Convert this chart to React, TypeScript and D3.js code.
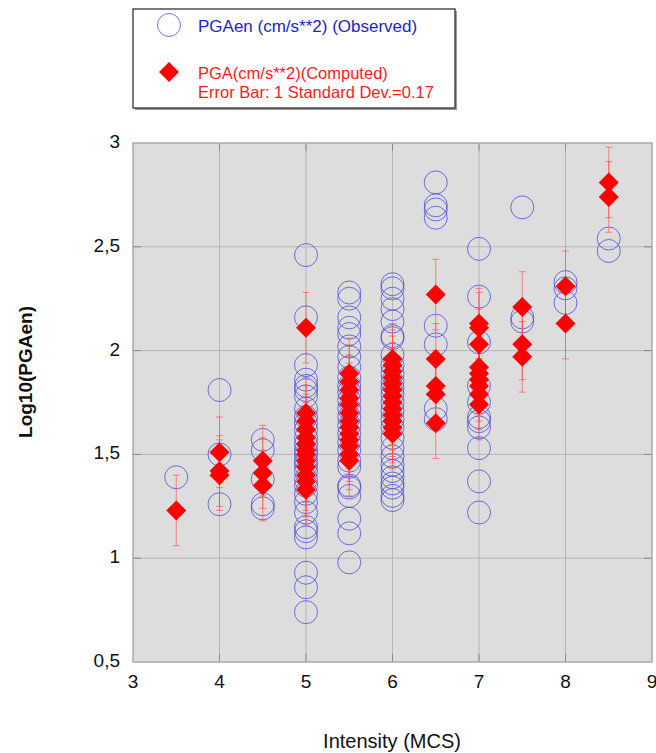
import React from "react";
import * as d3 from "d3";

const intensities = [3.5, 4, 4.5, 5, 5.5, 6, 6.5, 7, 7.5, 8, 8.5];

const observedValues: number[][] = [
  [1.39],
  [1.81, 1.5, 1.26],
  [1.57, 1.52, 1.38, 1.26, 1.24],
  [2.46, 2.16, 1.93, 1.86, 1.83, 1.81, 1.78, 1.72, 1.68, 1.65, 1.62, 1.58, 1.55, 1.52, 1.5, 1.47, 1.45, 1.42, 1.38, 1.35, 1.31, 1.27, 1.22, 1.15, 1.13, 1.1, 0.93, 0.86, 0.74],
  [2.28, 2.25, 2.16, 2.11, 2.08, 2.02, 1.97, 1.92, 1.87, 1.83, 1.8, 1.76, 1.72, 1.68, 1.64, 1.6, 1.56, 1.52, 1.47, 1.44, 1.35, 1.34, 1.3, 1.19, 1.12, 0.98],
  [2.32, 2.3, 2.25, 2.2, 2.14, 2.07, 2.06, 1.98, 1.93, 1.89, 1.85, 1.82, 1.79, 1.75, 1.71, 1.67, 1.63, 1.58, 1.53, 1.49, 1.45, 1.42, 1.39, 1.36, 1.34, 1.3, 1.28],
  [2.81, 2.7, 2.68, 2.64, 2.12, 2.03, 1.72, 1.67],
  [2.49, 2.26, 2.04, 1.83, 1.75, 1.68, 1.66, 1.63, 1.53, 1.37, 1.22],
  [2.69, 2.16, 2.14],
  [2.33, 2.3, 2.23],
  [2.54, 2.48],
];

const computedValues: number[][] = [
  [1.23],
  [1.51, 1.42, 1.4],
  [1.47, 1.41, 1.35],
  [2.11, 1.7, 1.66, 1.62, 1.58, 1.55, 1.52, 1.5, 1.47, 1.44, 1.4, 1.37, 1.33],
  [1.89, 1.85, 1.81, 1.77, 1.74, 1.7, 1.66, 1.63, 1.6, 1.57, 1.54, 1.5, 1.47],
  [1.96, 1.93, 1.9, 1.87, 1.84, 1.81, 1.78, 1.75, 1.72, 1.69, 1.66, 1.63, 1.6],
  [2.27, 1.96, 1.83, 1.79, 1.65],
  [2.13, 2.11, 2.03, 1.92, 1.89, 1.86, 1.83, 1.79, 1.74],
  [2.21, 2.03, 1.97],
  [2.31, 2.13],
  [2.81, 2.74],
];

const stdDev = 0.17;
const xTicks = [3, 4, 5, 6, 7, 8, 9];
const yTicks = [0.5, 1, 1.5, 2, 2.5, 3];
const yTickLabels = ["0,5", "1", "1,5", "2", "2,5", "3"];

const FONT = "Arial, 'Liberation Sans', Helvetica, sans-serif";

export default function App() {
  const W = 656, H = 753;
  const x = d3.scaleLinear().domain([3, 9]).range([133, 652]);
  const y = d3.scaleLinear().domain([0.5, 3]).range([662, 143]);
  const [x0, x1] = x.range();
  const [y0, y1] = y.range();

  const obs: { i: number; v: number }[] = [];
  intensities.forEach((i, k) => observedValues[k].forEach((v) => obs.push({ i, v })));
  const comp: { i: number; v: number }[] = [];
  intensities.forEach((i, k) => computedValues[k].forEach((v) => comp.push({ i, v })));

  const R = 11.5;
  const D = 10;
  const diamond = (cx: number, cy: number) =>
    `M${cx},${cy - D}L${cx + D},${cy}L${cx},${cy + D}L${cx - D},${cy}Z`;

  const gridColor = "#b6b6b6";
  const tickColor = "#8a8a8a";
  const circleStroke = "rgba(70,70,215,0.75)";
  const errColor = "rgba(255,70,70,0.6)";

  return (
    <svg width={W} height={H} style={{ position: "absolute", left: 0, top: 0, background: "#fff" }}>
      {/* legend */}
      <rect x={135} y={11} width={322} height={99} fill="#999" />
      <rect x={133} y={9} width={322} height={99} fill="#fff" stroke="#333" strokeWidth={1.3} />
      <circle cx={169} cy={25} r={R} fill="none" stroke={circleStroke} strokeWidth={1} />
      <text x={198} y={32} fontFamily={FONT} fontSize={17} fill="#2323c8">PGAen (cm/s**2) (Observed)</text>
      <path d={diamond(169, 72)} fill="#ff0000" />
      <text x={198} y={79} fontFamily={FONT} fontSize={16.5} fill="#ff1a1a">PGA(cm/s**2)(Computed)</text>
      <text x={198} y={98} fontFamily={FONT} fontSize={16.5} fill="#ff1a1a">Error Bar: 1 Standard Dev.=0.17</text>

      {/* plot background */}
      <rect x={x0} y={y1} width={x1 - x0} height={y0 - y1} fill="#dcdddc" />
      {xTicks.slice(1, -1).map((t) => (
        <line key={"gx" + t} x1={x(t)} x2={x(t)} y1={y1} y2={y0} stroke={gridColor} strokeWidth={1} />
      ))}
      {yTicks.slice(1, -1).map((t) => (
        <line key={"gy" + t} x1={x0} x2={x1} y1={y(t)} y2={y(t)} stroke={gridColor} strokeWidth={1} />
      ))}
      {xTicks.slice(1, -1).map((t) => (
        <g key={"tx" + t}>
          <line x1={x(t)} x2={x(t)} y1={y0} y2={y0 - 8} stroke={tickColor} strokeWidth={1} />
          <line x1={x(t)} x2={x(t)} y1={y1} y2={y1 + 8} stroke={tickColor} strokeWidth={1} />
        </g>
      ))}
      {yTicks.slice(1, -1).map((t) => (
        <g key={"ty" + t}>
          <line x1={x0} x2={x0 + 8} y1={y(t)} y2={y(t)} stroke={tickColor} strokeWidth={1} />
          <line x1={x1} x2={x1 - 8} y1={y(t)} y2={y(t)} stroke={tickColor} strokeWidth={1} />
        </g>
      ))}
      <rect x={x0} y={y1} width={x1 - x0} height={y0 - y1} fill="none" stroke="#aaaaaa" strokeWidth={1.5} />

      {/* observed circles */}
      {obs.map((d, k) => (
        <circle key={"o" + k} cx={x(d.i)} cy={y(d.v)} r={R} fill="none" stroke={circleStroke} strokeWidth={1} />
      ))}

      {/* error bars */}
      {comp.map((d, k) => {
        const cx = x(d.i);
        const ya = y(d.v + stdDev);
        const yb = y(d.v - stdDev);
        return (
          <g key={"e" + k} stroke={errColor} strokeWidth={1}>
            <line x1={cx} x2={cx} y1={ya} y2={yb} />
            <line x1={cx - 3.5} x2={cx + 3.5} y1={ya} y2={ya} />
            <line x1={cx - 3.5} x2={cx + 3.5} y1={yb} y2={yb} />
          </g>
        );
      })}

      {/* computed diamonds */}
      {comp.map((d, k) => (
        <path key={"c" + k} d={diamond(x(d.i), y(d.v))} fill="#ff0000" />
      ))}

      {/* tick labels */}
      {xTicks.map((t) => (
        <text key={"lx" + t} x={x(t)} y={688} textAnchor="middle" fontFamily={FONT} fontSize={19} fill="#111">{t}</text>
      ))}
      {yTicks.map((t, k) => (
        <text key={"ly" + t} x={120} y={y(t) + 5} textAnchor="end" fontFamily={FONT} fontSize={19} fill="#111">{yTickLabels[k]}</text>
      ))}

      {/* axis titles */}
      <text x={392} y={748} textAnchor="middle" fontFamily={FONT} fontSize={20} fill="#111">Intensity (MCS)</text>
      <text transform={`translate(32,372) rotate(-90)`} textAnchor="middle" fontFamily={FONT} fontSize={19} fontWeight="bold" fill="#111">Log10(PGAen)</text>
    </svg>
  );
}
